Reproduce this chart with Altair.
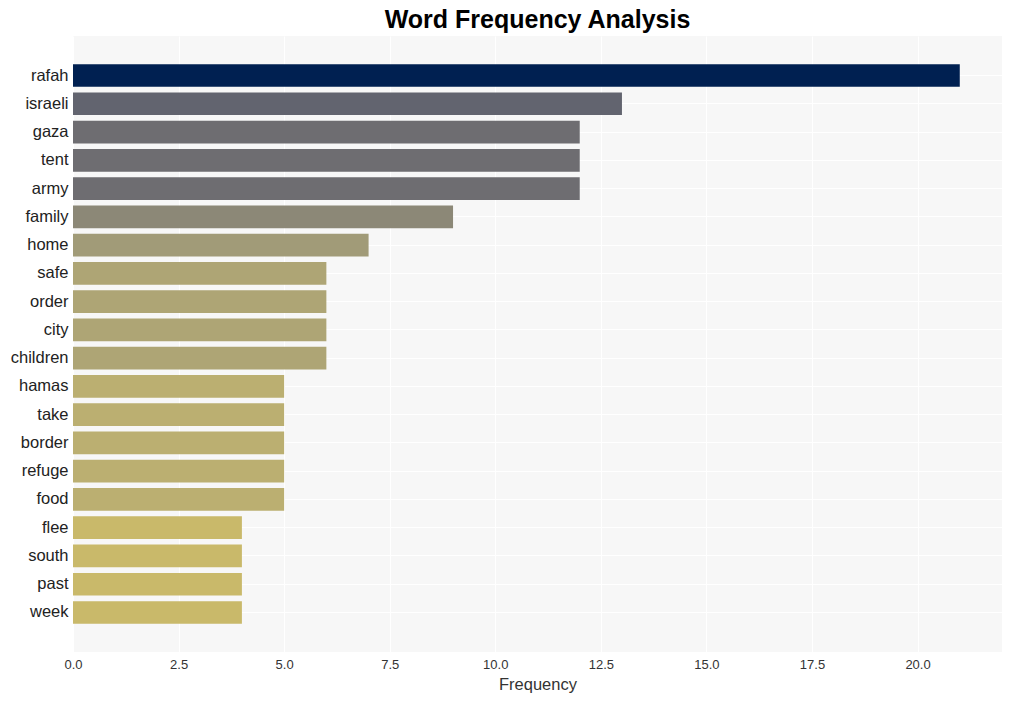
import altair as alt
import pandas as pd

words = ["rafah", "israeli", "gaza", "tent", "army", "family", "home", "safe", "order",
         "city", "children", "hamas", "take", "border", "refuge", "food", "flee", "south",
         "past", "week"]
counts = [21, 13, 12, 12, 12, 9, 7, 6, 6, 6, 6, 5, 5, 5, 5, 5, 4, 4, 4, 4]

df = pd.DataFrame({"word": words, "count": counts})

font = "Liberation Sans"

chart = alt.Chart(df).mark_bar().encode(
    x=alt.X("count:Q", title="Frequency",
            scale=alt.Scale(domain=[0, 22.0], nice=False, zero=True),
            axis=alt.Axis(values=[0, 2.5, 5, 7.5, 10, 12.5, 15, 17.5, 20], format=".1f",
                          grid=True, gridColor="white", gridWidth=1, domain=False,
                          ticks=False, labelPadding=6, labelFontSize=13, labelFlush=False,
                          labelColor="#333333", labelFont=font, titleFont=font,
                          titleFontSize=16.5, titleFontWeight="normal", titleColor="#333333",
                          titlePadding=5)),
    y=alt.Y("word:N", sort=words, title=None,
            scale=alt.Scale(paddingInner=0.2, paddingOuter=1.0),
            axis=alt.Axis(grid=True, gridColor="white", gridWidth=1, bandPosition=0.5,
                          domain=False, ticks=False, labelPadding=5, labelFontSize=16.5,
                          labelColor="#222222", labelFont=font)),
    color=alt.Color("count:Q", legend=None,
                    scale=alt.Scale(scheme="cividis", domain=[0, 21], reverse=True)),
).properties(
    width=929,
    height=616,
    title=alt.TitleParams("Word Frequency Analysis", font=font, fontSize=25,
                          fontWeight="bold", color="#000000", anchor="middle", offset=3),
    autosize=alt.AutoSizeParams(type="none"),
    padding={"left": 65, "top": 28, "right": 3, "bottom": 45},
).configure_view(
    fill="#f7f7f7", stroke=None
)

chart.save("out.html", embed_options={"renderer": "svg", "actions": False})
